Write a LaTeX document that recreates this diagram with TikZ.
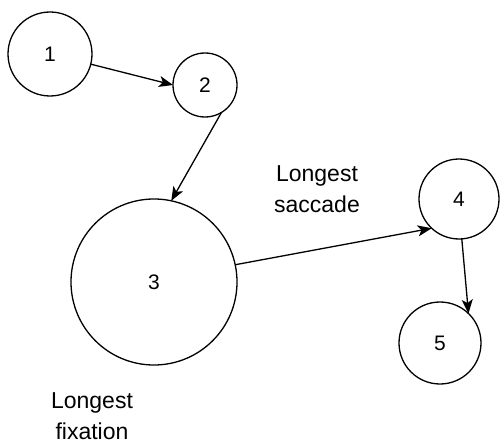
\documentclass[tikz,border=0pt]{standalone}
\usepackage{fontspec}
\setmainfont{Liberation Sans}
\usetikzlibrary{arrows.meta}
\begin{document}
\begin{tikzpicture}[x=1pt,y=-1pt,
  fix/.style={circle,draw,line width=1.3pt,inner sep=0pt,outer sep=0pt,font=\fontsize{21}{24}\selectfont},
  lab/.style={align=center,font=\fontsize{23}{31}\selectfont},
  arr/.style={line width=1.3pt,-{Stealth[length=14pt,width=11pt,inset=3.5pt]}}]
\useasboundingbox (0,0) rectangle (500,441);
\node[fix,minimum size=84pt] (n1) at (50,54) {1};
\node[fix,minimum size=64pt] (n2) at (205,85) {2};
\node[fix,minimum size=166pt] (n3) at (154,282) {3};
\node[fix,minimum size=80pt] (n4) at (459,199) {4};
\node[fix,minimum size=82pt] (n5) at (440,343) {5};
\node[lab] (ls) at (317,189) {Longest\\saccade};
\node[lab] (lf) at (92,416) {Longest\\fixation};
\draw[arr] (n1.-14) -- (n2.180);
\draw[arr] (n2.-59) -- (n3.78);
\draw[arr] (n3.12) -- (n4.227);
\draw[arr] (n4.-86) -- (n5.46);
\end{tikzpicture}
\end{document}
